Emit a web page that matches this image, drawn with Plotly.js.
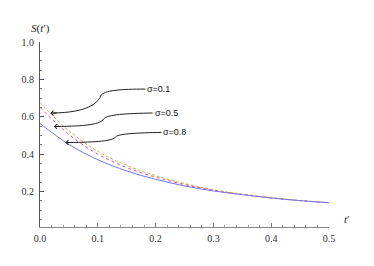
<!DOCTYPE html>
<html>
<head>
<meta charset="utf-8">
<script src="https://cdn.plot.ly/plotly-3.0.1.min.js"></script>
<style>html,body{margin:0;padding:0;background:#fff;}#chart{width:374px;height:266px;}</style>
</head>
<body>
<div id="chart"></div>
<script>
// ---- data ----
const tValues = [0, 0.05, 0.1, 0.15, 0.2, 0.25, 0.3, 0.35, 0.4, 0.45, 0.5];
const sSigma01 = [0.676, 0.525, 0.415, 0.340, 0.285, 0.243, 0.209, 0.186, 0.167, 0.152, 0.140];
const sSigma05 = [0.650, 0.505, 0.400, 0.328, 0.277, 0.237, 0.206, 0.184, 0.166, 0.151, 0.140];
const sSigma08 = [0.564, 0.452, 0.370, 0.310, 0.265, 0.230, 0.203, 0.183, 0.165, 0.151, 0.140];
const seriesNames = ['σ=0.1', 'σ=0.5', 'σ=0.8'];
const xTickVals = [0, 0.1, 0.2, 0.3, 0.4, 0.5];
const xTickText = ['0.0', '0.1', '0.2', '0.3', '0.4', '0.5'];
const yTickVals = [0.2, 0.4, 0.6, 0.8, 1.0];
const yTickText = ['0.2', '0.4', '0.6', '0.8', '1.0'];

const traces = [
  {x: tValues, y: sSigma01, name: seriesNames[0], mode: 'lines',
   line: {color: '#c9b060', width: 1, dash: '3px,2px', shape: 'spline'}},
  {x: tValues, y: sSigma05, name: seriesNames[1], mode: 'lines',
   line: {color: '#d8509a', width: 1, dash: 'dot', shape: 'spline'}},
  {x: tValues, y: sSigma08, name: seriesNames[2], mode: 'lines',
   line: {color: '#7478e0', width: 1, shape: 'spline'}}
];

const serif = "Liberation Serif";
const sans = "Liberation Sans";

const connectors = [
  'M 0.182,0.748 C 0.14,0.748 0.11,0.742 0.105,0.712 C 0.10,0.67 0.08,0.622 0.022,0.620',
  'M 0.195,0.620 C 0.15,0.618 0.116,0.612 0.110,0.588 C 0.105,0.56 0.08,0.549 0.028,0.548',
  'M 0.210,0.516 C 0.17,0.514 0.136,0.51 0.131,0.492 C 0.125,0.47 0.10,0.464 0.048,0.462'
];
const shapes = connectors.map(p => ({type: 'path', xref: 'x', yref: 'y', path: p,
  line: {color: '#222', width: 1}}));

const arrowBase = {text: '', showarrow: true, arrowhead: 4, arrowsize: 0.9, arrowwidth: 1,
  arrowcolor: '#222', standoff: 0, ax: 8, ay: 0};
const annotations = [
  Object.assign({x: 0.018, y: 0.620}, arrowBase),
  Object.assign({x: 0.024, y: 0.548}, arrowBase),
  Object.assign({x: 0.044, y: 0.462}, arrowBase),
  {x: 0.182, y: 0.748, text: seriesNames[0], showarrow: false, xanchor: 'left', yanchor: 'middle', font: {family: sans, size: 9, color: '#111'}},
  {x: 0.195, y: 0.620, text: seriesNames[1], showarrow: false, xanchor: 'left', yanchor: 'middle', font: {family: sans, size: 9, color: '#111'}},
  {x: 0.210, y: 0.516, text: seriesNames[2], showarrow: false, xanchor: 'left', yanchor: 'middle', font: {family: sans, size: 9, color: '#111'}},
  {xref: 'paper', yref: 'paper', x: 0.0, y: 1.0, xshift: 0, yshift: 5, text: '<i>S</i>(<i>t</i>′)', showarrow: false,
   xanchor: 'center', yanchor: 'bottom', font: {family: serif, size: 11, color: '#222'}},
  {xref: 'paper', yref: 'paper', x: 1.0, y: 0.0, xshift: 17, yshift: 0, text: '<i>t</i>′', showarrow: false,
   xanchor: 'center', yanchor: 'bottom', font: {family: serif, size: 11, color: '#222'}}
];

const layout = {
  width: 374, height: 266,
  margin: {l: 40, r: 45, t: 42, b: 39, pad: 0},
  paper_bgcolor: '#fff', plot_bgcolor: '#fff',
  showlegend: false,
  font: {family: serif},
  xaxis: {range: [0, 0.5], showgrid: false, zeroline: false,
    showline: true, linecolor: '#888', linewidth: 1,
    ticks: 'inside', ticklen: 4, tickcolor: '#777', tickwidth: 1,
    tickvals: xTickVals, ticktext: xTickText,
    minor: {ticks: 'inside', dtick: 0.02, tick0: 0, ticklen: 2, tickcolor: '#999', showgrid: false},
    tickfont: {family: serif, size: 10, color: '#333'}, ticklabelstandoff: 2},
  yaxis: {range: [0.01, 1.0], showgrid: false, zeroline: false,
    showline: true, linecolor: '#555', linewidth: 1,
    ticks: 'inside', ticklen: 4, tickcolor: '#555', tickwidth: 1,
    tickvals: yTickVals, ticktext: yTickText,
    minor: {ticks: 'inside', dtick: 0.05, tick0: 0, ticklen: 2, tickcolor: '#777', showgrid: false},
    tickfont: {family: serif, size: 10, color: '#333'}, ticklabelstandoff: 3},
  shapes: shapes,
  annotations: annotations
};

Plotly.newPlot('chart', traces, layout, {displayModeBar: false, staticPlot: true});
</script>
</body>
</html>
